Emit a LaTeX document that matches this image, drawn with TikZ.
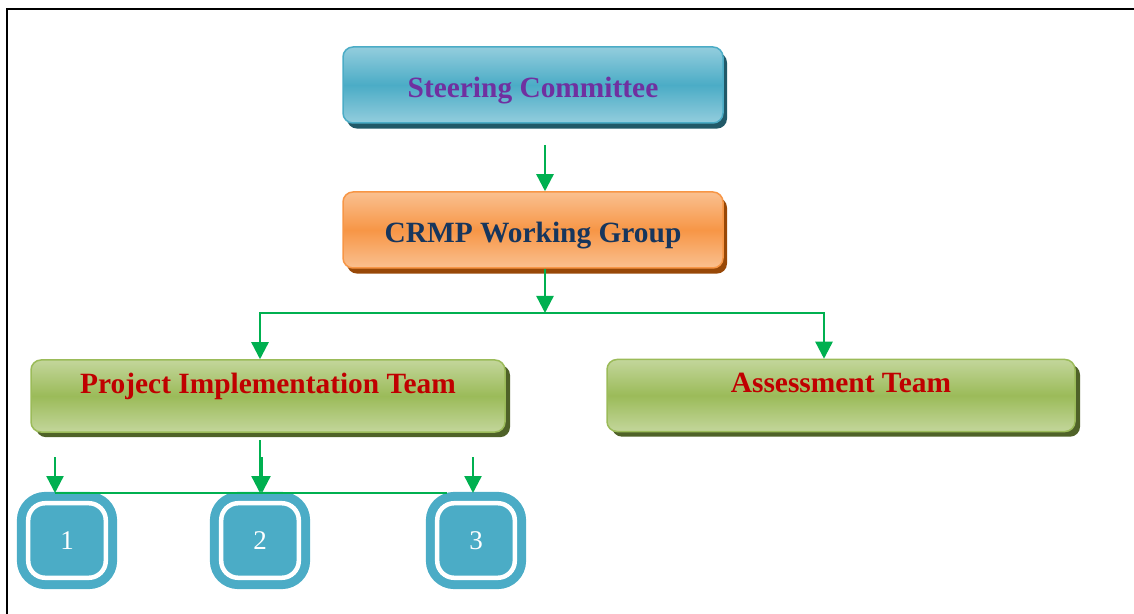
\documentclass[tikz,border=0pt]{standalone}
\usepackage{fontspec}
\setmainfont{Liberation Serif}
\usepackage{tikz}
\usepackage{xcolor}
\usetikzlibrary{arrows.meta,shadows}
\definecolor{octeal}{HTML}{4BACC6}
\definecolor{octeall}{HTML}{93CDDD}
\definecolor{octeald}{HTML}{215968}
\definecolor{ocorange}{HTML}{F79646}
\definecolor{ocorangel}{HTML}{FAC090}
\definecolor{ocoranged}{HTML}{984807}
\definecolor{ocgreen}{HTML}{9BBB59}
\definecolor{ocgreenl}{HTML}{C3D69B}
\definecolor{ocgreend}{HTML}{4F6228}
\definecolor{ocarrow}{HTML}{00B050}
\definecolor{ocpurple}{HTML}{7030A0}
\definecolor{ocnavy}{HTML}{17365D}
\definecolor{ocred}{HTML}{C00000}
\newcommand{\ocfont}{\fontsize{14.7}{17}\selectfont}
\tikzset{
  ocbox/.style     = {draw, rounded corners=5pt, line width=0.75pt,
                      align=center, inner sep=0pt, font=\ocfont\bfseries},
  board/.style     = {ocbox, draw=octeal, top color=octeall,
                      bottom color=octeall, middle color=octeal,
                      text=ocpurple, minimum width=190pt, minimum height=38pt,
                      text height=15pt, text depth=2.5pt,
                      drop shadow={shadow xshift=2pt, shadow yshift=-2.8pt,
                                   opacity=1, fill=octeald}},
  wgroup/.style    = {ocbox, draw=ocorange, top color=ocorangel,
                      bottom color=ocorangel, middle color=ocorange,
                      text=ocnavy, minimum width=190pt, minimum height=38pt,
                      text height=15pt, text depth=2.5pt,
                      drop shadow={shadow xshift=2pt, shadow yshift=-2.8pt,
                                   opacity=1, fill=ocoranged}},
  team/.style      = {ocbox, draw=ocgreen, top color=ocgreenl,
                      bottom color=ocgreenl, middle color=ocgreen,
                      text=ocred, minimum height=36pt,
                      text height=8.5pt, text depth=11pt,
                      drop shadow={shadow xshift=2.5pt, shadow yshift=-2.6pt,
                                   opacity=1, fill=ocgreend}},
  numbox/.style    = {draw=octeal, fill=octeal, line width=4.5pt,
                      double=white, double distance=2.25pt,
                      rounded corners=8.5pt, inner sep=0pt,
                      minimum width=38.8pt, minimum height=37.3pt,
                      text=white, font=\fontsize{13.5}{16}\selectfont},
  %
  flow/.style      = {-{Triangle[length=8.5pt,width=8.5pt]}, draw=ocarrow,
                      line width=1.2pt},
  link/.style      = {draw=ocarrow, line width=1.1pt},
}

\begin{document}
\begin{tikzpicture}[x=0.5pt, y=-0.5pt]

  \useasboundingbox (0,0) rectangle (1134,614);
  \draw[line width=1pt] (7,614) -- (7,9.5) -- (1134,9.5);

  \node[board]  (steer)  at (533,85)    {Steering Committee};
  \node[wgroup] (crmp)   at (533,230)   {CRMP Working Group};
  \node[team, minimum width=237pt] (pit)    at (268,396)
      {Project Implementation Team};
  \node[team, minimum width=234pt] (assess) at (841,395.5)
      {Assessment Team};

  \node[numbox] (t1) at (67,540.5)  {1};
  \node[numbox] (t2) at (260,540.5) {2};
  \node[numbox] (t3) at (476,540.5) {3};

  % committee down to the working group
  \coordinate (tin) at (545,145);
  \draw[flow] (tin) -- (tin |- crmp.north);

  % fork to the two teams
  \coordinate (fork) at (545,313);
  \coordinate (fl) at (260,313);
  \coordinate (fr) at (824,313);
  \draw[flow] (crmp.south -| fork) -- (fork);
  \draw[flow] (fork) -| (fl |- pit.north);
  \draw[flow] (fork) -| (fr |- assess.north);

  % sub-teams under the implementation team
  \coordinate (rowl) at (55,493);
  \coordinate (rowr) at (447,493);
  \coordinate (a1) at (55,457);
  \coordinate (a2) at (260,440);
  \coordinate (a2b) at (262,457);
  \coordinate (a3) at (473,457);
  \draw[link] (rowl) -- (rowr);
  \draw[flow] (a1) -- (a1 |- rowl);
  \draw[flow] (a2) -- (a2 |- rowl);
  \draw[flow] (a2b) -- (a2b |- rowl);
  \draw[flow] (a3) -- (a3 |- rowl);

\end{tikzpicture}
\end{document}
